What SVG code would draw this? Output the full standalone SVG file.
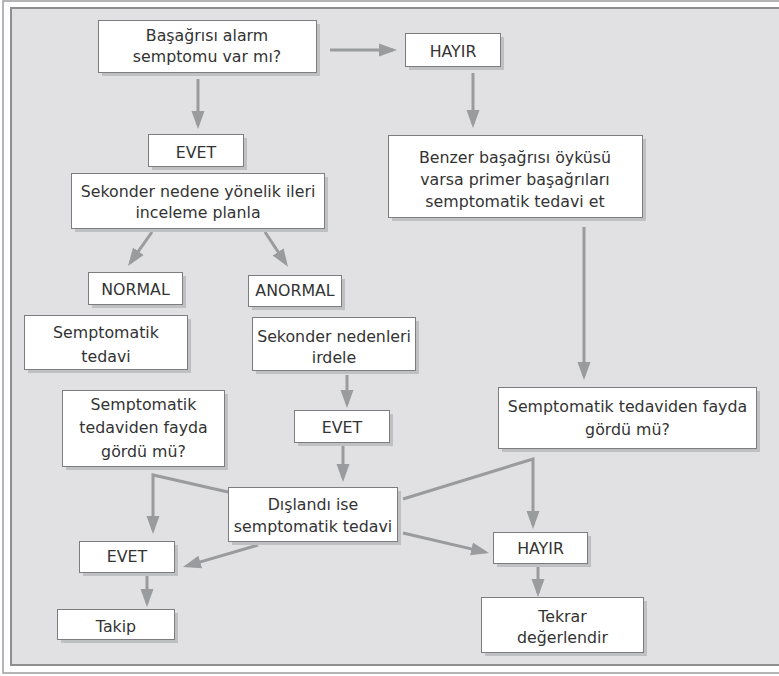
<svg xmlns="http://www.w3.org/2000/svg" width="779" height="676" viewBox="0 0 779 676">
  <style>
    .box rect.face { fill: #ffffff; stroke: #7d7d7f; stroke-width: 1; }
    .box rect.shadow { fill: #bfc0c2; }
    .box text { font-family: "DejaVu Sans", "Liberation Sans", sans-serif; font-size: 15.8px; fill: #333333; text-anchor: middle; }
    .conn { fill: none; stroke: #9a9b9e; stroke-width: 3; marker-end: url(#head); }
  </style>
  <defs>
    <marker id="head" markerUnits="userSpaceOnUse" markerWidth="18" markerHeight="14" refX="14" refY="6.5" orient="auto" viewBox="0 0 18 13">
      <path d="M0,0 L18,6.5 L0,13 z" fill="#9a9b9e"/>
    </marker>
  </defs>

  <!-- page frame -->
  <rect x="3" y="1" width="800" height="672" fill="#ffffff" stroke="#9c9c9e" stroke-width="1.5"/>
  <rect x="11" y="8" width="800" height="657" fill="#e1e1e3" stroke="#8e8e90" stroke-width="2"/>

  <!-- connectors -->
  <g id="connectors">
    <path class="conn" d="M330,50 L393,50"/>
    <path class="conn" d="M198,79 L198,125"/>
    <path class="conn" d="M473,73 L473,124"/>
    <path class="conn" d="M152,232 L130.3,262.7"/>
    <path class="conn" d="M265,232 L285.8,263.5"/>
    <path class="conn" d="M584,227 L584,376"/>
    <path class="conn" d="M347,375 L347,404"/>
    <path class="conn" d="M343,445 L343,478"/>
    <path class="conn" d="M228,492 L153,475 L153,530"/>
    <path class="conn" d="M258,545 L186.8,565.9"/>
    <path class="conn" d="M147,576 L147,603"/>
    <path class="conn" d="M403,499 L533,459 L533,525"/>
    <path class="conn" d="M403,533 L485.1,552.1"/>
    <path class="conn" d="M538,567 L538,593"/>
  </g>

  <g id="alarm" class="box">
    <rect class="shadow" x="102" y="24" width="218" height="52"/>
    <rect class="face" x="98.5" y="20.5" width="218" height="52"/>
    <text x="207" y="41">Başağrısı alarm</text>
    <text x="207" y="62">semptomu var mı?</text>
  </g>

  <g id="hayir-top" class="box">
    <rect class="shadow" x="409" y="37" width="95" height="33"/>
    <rect class="face" x="405.5" y="33.5" width="95" height="33"/>
    <text x="453" y="57">HAYIR</text>
  </g>

  <g id="benzer" class="box">
    <rect class="shadow" x="392" y="139" width="254" height="82"/>
    <rect class="face" x="388.5" y="135.5" width="254" height="82"/>
    <text x="515" y="163">Benzer başağrısı öyküsü</text>
    <text x="515" y="185">varsa primer başağrıları</text>
    <text x="515" y="207">semptomatik tedavi et</text>
  </g>

  <g id="evet-top" class="box">
    <rect class="shadow" x="152" y="138" width="95" height="32"/>
    <rect class="face" x="148.5" y="134.5" width="95" height="32"/>
    <text x="196" y="158">EVET</text>
  </g>

  <g id="sekonder-plan" class="box">
    <rect class="shadow" x="75" y="177" width="253" height="55"/>
    <rect class="face" x="71.5" y="173.5" width="253" height="55"/>
    <text x="198" y="197">Sekonder nedene yönelik ileri</text>
    <text x="198" y="218">inceleme planla</text>
  </g>

  <g id="normal" class="box">
    <rect class="shadow" x="92" y="276" width="94" height="32"/>
    <rect class="face" x="88.5" y="272.5" width="94" height="32"/>
    <text x="135.5" y="295">NORMAL</text>
  </g>

  <g id="anormal" class="box">
    <rect class="shadow" x="252" y="279" width="93" height="31"/>
    <rect class="face" x="248.5" y="275.5" width="93" height="31"/>
    <text x="295" y="296">ANORMAL</text>
  </g>

  <g id="semptomatik-tedavi" class="box">
    <rect class="shadow" x="28" y="319" width="163" height="54"/>
    <rect class="face" x="24.5" y="315.5" width="163" height="54"/>
    <text x="106" y="338">Semptomatik</text>
    <text x="106" y="362">tedavi</text>
  </g>

  <g id="sekonder-irdele" class="box">
    <rect class="shadow" x="256" y="321" width="163" height="53"/>
    <rect class="face" x="252.5" y="317.5" width="163" height="53"/>
    <text x="334" y="342">Sekonder nedenleri</text>
    <text x="334" y="363">irdele</text>
  </g>

  <g id="fayda-left" class="box">
    <rect class="shadow" x="66" y="394" width="162" height="76"/>
    <rect class="face" x="62.5" y="390.5" width="162" height="76"/>
    <text x="143.5" y="410">Semptomatik</text>
    <text x="143.5" y="433">tedaviden fayda</text>
    <text x="143.5" y="457">gördü mü?</text>
  </g>

  <g id="evet-mid" class="box">
    <rect class="shadow" x="298" y="414" width="95" height="32"/>
    <rect class="face" x="294.5" y="410.5" width="95" height="32"/>
    <text x="342" y="433">EVET</text>
  </g>

  <g id="fayda-right" class="box">
    <rect class="shadow" x="502" y="391" width="258" height="61"/>
    <rect class="face" x="498.5" y="387.5" width="258" height="61"/>
    <text x="627.5" y="412">Semptomatik tedaviden fayda</text>
    <text x="627.5" y="435">gördü mü?</text>
  </g>

  <g id="dislandi" class="box">
    <rect class="shadow" x="232" y="491" width="169" height="54"/>
    <rect class="face" x="228.5" y="487.5" width="169" height="54"/>
    <text x="313" y="510">Dışlandı ise</text>
    <text x="313" y="532">semptomatik tedavi</text>
  </g>

  <g id="evet-bottom" class="box">
    <rect class="shadow" x="83" y="545" width="95" height="31"/>
    <rect class="face" x="79.5" y="541.5" width="95" height="31"/>
    <text x="127" y="562">EVET</text>
  </g>

  <g id="hayir-bottom" class="box">
    <rect class="shadow" x="497" y="536" width="94" height="31"/>
    <rect class="face" x="493.5" y="532.5" width="94" height="31"/>
    <text x="540.5" y="554">HAYIR</text>
  </g>

  <g id="takip" class="box">
    <rect class="shadow" x="61" y="613" width="117" height="30"/>
    <rect class="face" x="57.5" y="609.5" width="117" height="30"/>
    <text x="116" y="632">Takip</text>
  </g>

  <g id="tekrar" class="box">
    <rect class="shadow" x="485" y="601" width="162" height="55"/>
    <rect class="face" x="481.5" y="597.5" width="162" height="55"/>
    <text x="562.5" y="622">Tekrar</text>
    <text x="562.5" y="643">değerlendir</text>
  </g>
</svg>
